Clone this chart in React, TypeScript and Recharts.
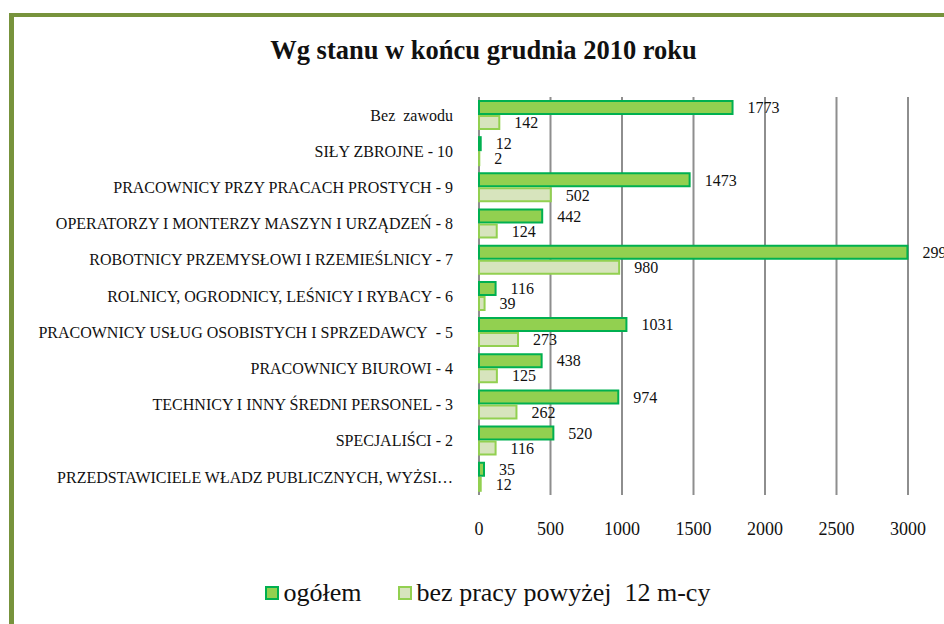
import { BarChart, Bar, XAxis, YAxis, CartesianGrid, LabelList, Legend } from 'recharts';

const categories = [
  'Bez  zawodu',
  'SIŁY ZBROJNE - 10',
  'PRACOWNICY PRZY PRACACH PROSTYCH - 9',
  'OPERATORZY I MONTERZY MASZYN I URZĄDZEŃ - 8',
  'ROBOTNICY PRZEMYSŁOWI I RZEMIEŚLNICY - 7',
  'ROLNICY, OGRODNICY, LEŚNICY I RYBACY - 6',
  'PRACOWNICY USŁUG OSOBISTYCH I SPRZEDAWCY  - 5',
  'PRACOWNICY BIUROWI - 4',
  'TECHNICY I INNY ŚREDNI PERSONEL - 3',
  'SPECJALIŚCI - 2',
  'PRZEDSTAWICIELE WŁADZ PUBLICZNYCH, WYŻSI…',
];
const ogolem = [1773, 12, 1473, 442, 2996, 116, 1031, 438, 974, 520, 35];
const bezPracy = [142, 2, 502, 124, 980, 39, 273, 125, 262, 116, 12];
const xTicks = [0, 500, 1000, 1500, 2000, 2500, 3000];

const data = categories.map((name, i) => ({ name, ogolem: ogolem[i], bezPracy: bezPracy[i] }));

const FONT = 'Liberation Serif, serif';

const CatTick = (props: any) => {
  const { x, y, payload } = props;
  return (
    <text x={x - 18} y={y} dy="0.35em" textAnchor="end" style={{ fontSize: 16, fontFamily: FONT }} fill="#111">
      {payload.value.replace(/ {2}/g, '\u00a0 ')}
    </text>
  );
};

const NumTick = (props: any) => {
  const { x, y, payload } = props;
  return (
    <text x={x} y={y} dy={32} textAnchor="middle" style={{ fontSize: 18, fontFamily: FONT }} fill="#111">
      {payload.value}
    </text>
  );
};

const legendItems = [
  { label: 'ogółem', fill: '#92D050', stroke: '#00B050' },
  { label: 'bez pracy powyżej\u00a0 12 m-cy', fill: '#D7E4BD', stroke: '#92D050' },
];

const LegendContent = () => (
  <div style={{ display: 'flex', justifyContent: 'center', alignItems: 'center', gap: 36, fontFamily: FONT, fontSize: 26, color: '#111' }}>
    {legendItems.map(item => (
      <div key={item.label} style={{ display: 'flex', alignItems: 'center' }}>
        <span style={{ width: 10, height: 10, background: item.fill, border: `2px solid ${item.stroke}`, marginRight: 5, display: 'inline-block' }} />
        <span>{item.label}</span>
      </div>
    ))}
  </div>
);

const labelStyle = { fontSize: 16, fontFamily: FONT };

export default function App() {
  return (
    <div style={{ position: 'fixed', left: 0, top: 0, width: 944, height: 624, overflow: 'hidden', background: '#fff' }}>
      <div style={{ position: 'absolute', left: 9, top: 13, width: 1100, height: 800, borderLeft: '5px solid #77933C', borderTop: '4px solid #77933C' }} />
      <div style={{ position: 'absolute', left: 0, top: 35, width: 967, textAlign: 'center', fontFamily: FONT, fontWeight: 'bold', fontSize: 26.5, color: '#111' }}>
        Wg stanu w końcu grudnia 2010 roku
      </div>
      <div style={{ position: 'absolute', left: 0, top: 0 }}>
        <BarChart
          width={1000}
          height={624}
          data={data}
          layout="vertical"
          margin={{ top: 97, right: 92, left: 0, bottom: 89 }}
          barGap={2}
          barCategoryGap="11%"
        >
          <CartesianGrid horizontal={false} stroke="#8E8E8E" strokeWidth={2} />
          <XAxis
            type="number"
            domain={[0, 3000]}
            ticks={xTicks}
            axisLine={false}
            tickLine={false}
            height={40}
            tick={NumTick}
            interval={0}
          />
          <YAxis
            type="category"
            dataKey="name"
            width={479}
            axisLine={false}
            tickLine={false}
            tick={CatTick}
            interval={0}
          />
          <Legend
            layout="horizontal"
            verticalAlign="middle"
            align="center"
            content={LegendContent}
            wrapperStyle={{ top: 578, left: 0, width: 975 }}
          />
          <Bar dataKey="ogolem" fill="#92D050" stroke="#00B050" strokeWidth={2} isAnimationActive={false}>
            <LabelList dataKey="ogolem" position="right" offset={15} style={labelStyle} fill="#111" />
          </Bar>
          <Bar dataKey="bezPracy" fill="#D7E4BD" stroke="#92D050" strokeWidth={2} isAnimationActive={false}>
            <LabelList dataKey="bezPracy" position="right" offset={15} style={labelStyle} fill="#111" />
          </Bar>
        </BarChart>
      </div>
    </div>
  );
}
